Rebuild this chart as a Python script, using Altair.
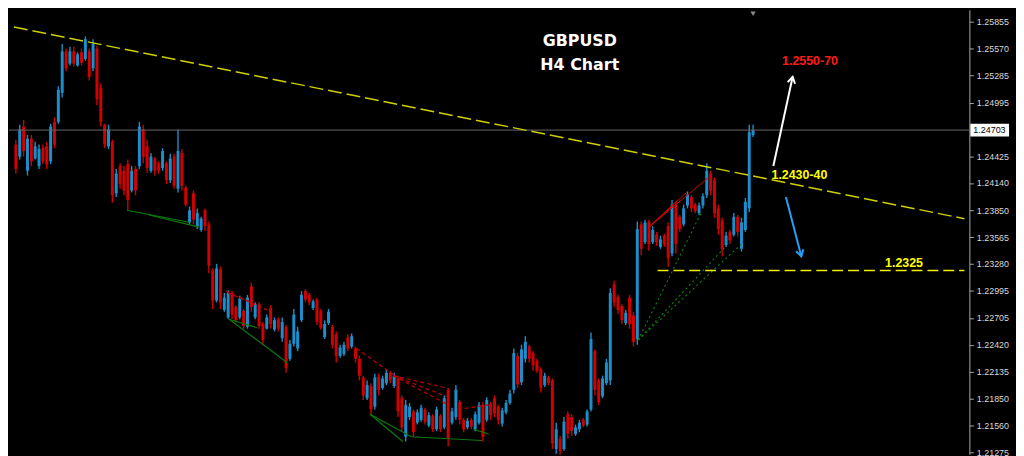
import altair as alt
import pandas as pd

# ---- H4 GBPUSD bars ----
opens = [
1.2455,1.2442,1.2474,1.2427,1.2461,1.2440,1.2432,1.2451,1.2453,1.2437,
1.2479,1.2479,1.2510,1.2554,1.2541,1.2554,1.2539,1.2553,1.2546,1.2554,
1.2536,1.2557,1.2515,1.2476,1.2453,1.2458,1.2403,1.2432,1.2427,1.2434,
1.2406,1.2429,1.2432,1.2471,1.2453,1.2427,1.2440,1.2435,1.2430,1.2435,
1.2417,1.2442,1.2408,1.2446,1.2409,1.2372,1.2403,1.2368,1.2364,1.2385,
1.2370,1.2321,1.2289,1.2322,1.2279,1.2271,1.2297,1.2282,1.2271,1.2278,
1.2261,1.2304,1.2271,1.2285,1.2264,1.2259,1.2281,1.2258,1.2269,1.2249,
1.2261,1.2227,1.2243,1.2238,1.2268,1.2299,1.2295,1.2281,1.2290,1.2278,
1.2250,1.2265,1.2261,1.2253,1.2230,1.2232,1.2250,1.2240,1.2238,1.2227,
1.2207,1.2185,1.2198,1.2176,1.2208,1.2196,1.2201,1.2212,1.2198,1.2206,
1.2185,1.2144,1.2165,1.2171,1.2159,1.2162,1.2173,1.2156,1.2166,1.2152,
1.2166,1.2154,1.2194,1.2159,1.2165,1.2181,1.2162,1.2154,1.2162,1.2152,
1.2159,1.2178,1.2162,1.2179,1.2185,1.2176,1.2158,1.2170,1.2180,1.2194,
1.2230,1.2202,1.2227,1.2240,1.2233,1.2225,1.2216,1.2199,1.2207,1.2204,
1.2131,1.2142,1.2131,1.2168,1.2165,1.2147,1.2152,1.2162,1.2157,1.2173,
1.2235,1.2204,1.2187,1.2201,1.2204,1.2306,1.2293,1.2283,1.2265,1.2292,
1.2273,1.2248,1.2370,1.2351,1.2373,1.2351,1.2359,1.2346,1.2358,1.2368,
1.2339,1.2391,1.2378,1.2370,1.2390,1.2399,1.2391,1.2382,1.2390,1.2401,
1.2424,1.2417,1.2387,1.2374,1.2348,1.2362,1.2359,1.2378,1.2344,1.2364,
1.2387,1.2465]
highs = [
1.2460,1.2476,1.2481,1.2465,1.2465,1.2458,1.2455,1.2455,1.2458,1.2477,
1.2484,1.2517,1.2562,1.2557,1.2559,1.2559,1.2553,1.2557,1.2570,1.2557,
1.2567,1.2560,1.2520,1.2477,1.2476,1.2460,1.2429,1.2435,1.2432,1.2439,
1.2432,1.2432,1.2479,1.2476,1.2460,1.2446,1.2442,1.2437,1.2451,1.2437,
1.2445,1.2445,1.2471,1.2450,1.2411,1.2389,1.2406,1.2387,1.2378,1.2387,
1.2373,1.2323,1.2328,1.2325,1.2297,1.2300,1.2299,1.2284,1.2294,1.2280,
1.2295,1.2308,1.2287,1.2287,1.2266,1.2274,1.2284,1.2271,1.2271,1.2271,
1.2263,1.2247,1.2280,1.2261,1.2299,1.2301,1.2297,1.2290,1.2292,1.2280,
1.2268,1.2280,1.2263,1.2256,1.2242,1.2245,1.2253,1.2254,1.2240,1.2230,
1.2209,1.2204,1.2201,1.2211,1.2211,1.2209,1.2216,1.2214,1.2212,1.2209,
1.2188,1.2183,1.2180,1.2173,1.2173,1.2178,1.2175,1.2170,1.2168,1.2176,
1.2168,1.2188,1.2196,1.2175,1.2199,1.2183,1.2164,1.2164,1.2164,1.2171,
1.2181,1.2181,1.2186,1.2181,1.2188,1.2178,1.2175,1.2183,1.2194,1.2238,
1.2233,1.2242,1.2251,1.2242,1.2235,1.2227,1.2218,1.2212,1.2209,1.2206,
1.2159,1.2145,1.2165,1.2171,1.2168,1.2157,1.2162,1.2164,1.2173,1.2255,
1.2237,1.2206,1.2209,1.2227,1.2302,1.2310,1.2295,1.2285,1.2279,1.2295,
1.2277,1.2373,1.2373,1.2375,1.2375,1.2368,1.2362,1.2358,1.2360,1.2372,
1.2396,1.2394,1.2380,1.2391,1.2405,1.2401,1.2393,1.2393,1.2403,1.2435,
1.2427,1.2420,1.2391,1.2377,1.2362,1.2364,1.2382,1.2380,1.2377,1.2398,
1.2476,1.2476]
lows = [
1.2424,1.2439,1.2442,1.2422,1.2432,1.2439,1.2429,1.2434,1.2429,1.2434,
1.2451,1.2477,1.2505,1.2533,1.2539,1.2538,1.2538,1.2539,1.2544,1.2523,
1.2533,1.2497,1.2474,1.2451,1.2450,1.2393,1.2399,1.2408,1.2401,1.2385,
1.2404,1.2401,1.2429,1.2435,1.2425,1.2425,1.2422,1.2424,1.2427,1.2413,
1.2414,1.2408,1.2404,1.2406,1.2389,1.2370,1.2370,1.2365,1.2362,1.2363,
1.2318,1.2280,1.2287,1.2280,1.2277,1.2269,1.2269,1.2266,1.2269,1.2259,
1.2259,1.2277,1.2269,1.2259,1.2242,1.2258,1.2259,1.2256,1.2256,1.2245,
1.2212,1.2225,1.2240,1.2235,1.2266,1.2287,1.2284,1.2279,1.2263,1.2258,
1.2248,1.2263,1.2238,1.2223,1.2228,1.2230,1.2235,1.2238,1.2223,1.2204,
1.2183,1.2183,1.2168,1.2173,1.2188,1.2194,1.2199,1.2201,1.2196,1.2165,
1.2149,1.2139,1.2162,1.2144,1.2157,1.2160,1.2157,1.2154,1.2149,1.2150,
1.2149,1.2152,1.2134,1.2157,1.2162,1.2157,1.2149,1.2152,1.2152,1.2150,
1.2157,1.2139,1.2160,1.2162,1.2165,1.2157,1.2155,1.2168,1.2178,1.2190,
1.2196,1.2199,1.2223,1.2223,1.2214,1.2212,1.2191,1.2197,1.2199,1.2131,
1.2126,1.2125,1.2129,1.2142,1.2145,1.2145,1.2149,1.2154,1.2155,1.2171,
1.2188,1.2178,1.2185,1.2199,1.2199,1.2282,1.2275,1.2264,1.2263,1.2259,
1.2240,1.2242,1.2337,1.2349,1.2342,1.2349,1.2347,1.2344,1.2346,1.2325,
1.2336,1.2339,1.2362,1.2368,1.2387,1.2383,1.2382,1.2380,1.2387,1.2398,
1.2401,1.2377,1.2359,1.2336,1.2346,1.2349,1.2357,1.2357,1.2341,1.2362,
1.2383,1.2463]
closes = [
1.2429,1.2471,1.2448,1.2461,1.2437,1.2453,1.2450,1.2437,1.2434,1.2474,
1.2455,1.2513,1.2554,1.2536,1.2554,1.2541,1.2551,1.2542,1.2567,1.2527,
1.2562,1.2503,1.2479,1.2455,1.2471,1.2401,1.2424,1.2413,1.2406,1.2396,
1.2427,1.2406,1.2474,1.2442,1.2430,1.2442,1.2427,1.2427,1.2448,1.2417,
1.2440,1.2411,1.2448,1.2411,1.2391,1.2385,1.2375,1.2382,1.2376,1.2368,
1.2326,1.2289,1.2323,1.2287,1.2292,1.2297,1.2274,1.2268,1.2291,1.2262,
1.2292,1.2282,1.2285,1.2262,1.2247,1.2271,1.2264,1.2268,1.2259,1.2266,
1.2217,1.2243,1.2274,1.2256,1.2295,1.2290,1.2287,1.2288,1.2266,1.2260,
1.2264,1.2277,1.2242,1.2230,1.2239,1.2242,1.2238,1.2251,1.2227,1.2209,
1.2188,1.2199,1.2173,1.2207,1.2194,1.2206,1.2212,1.2204,1.2209,1.2171,
1.2154,1.2178,1.2176,1.2149,1.2170,1.2175,1.2160,1.2167,1.2152,1.2173,
1.2152,1.2185,1.2142,1.2171,1.2194,1.2162,1.2152,1.2161,1.2155,1.2168,
1.2178,1.2144,1.2183,1.2167,1.2169,1.2162,1.2172,1.2180,1.2190,1.2233,
1.2200,1.2237,1.2245,1.2227,1.2220,1.2214,1.2196,1.2209,1.2201,1.2137,
1.2152,1.2129,1.2160,1.2147,1.2150,1.2154,1.2159,1.2156,1.2171,1.2248,
1.2194,1.2181,1.2206,1.2223,1.2297,1.2287,1.2279,1.2268,1.2276,1.2264,
1.2245,1.2365,1.2344,1.2372,1.2349,1.2364,1.2351,1.2354,1.2349,1.2334,
1.2391,1.2349,1.2365,1.2387,1.2402,1.2387,1.2384,1.2390,1.2400,1.2427,
1.2406,1.2382,1.2365,1.2344,1.2358,1.2353,1.2378,1.2362,1.2372,1.2394,
1.2468,1.24703]

# axis tick labels (right price scale)
tick_values = [1.25855, 1.25570, 1.25285, 1.24995, 1.24425, 1.24140, 1.23850,
               1.23565, 1.23280, 1.22995, 1.22705, 1.22420, 1.22135, 1.21850,
               1.21560, 1.21275]
current_price = 1.24703
support_level = 1.2321

# drawn objects: (segment, bar index, price)
trend_seg = [0, 0]
trend_i = [-0.5, 245.75]
trend_p = [1.2580, 1.2376]

green_seg = [0, 0, 1, 1, 2, 2, 3, 3, 4, 4, 5, 5, 6, 6, 7, 7]
green_i = [28.75, 45.25, 34.5, 47.5, 55.25, 70.25, 55.25, 62.5,
           91.75, 100.25, 91.75, 102.5, 102.5, 120.75, 118.5, 122.5]
green_p = [1.2385, 1.2372, 1.2380, 1.2367, 1.2269, 1.2223, 1.2269, 1.2260,
           1.2168, 1.2139, 1.2168, 1.2144, 1.2144, 1.2140, 1.2152, 1.2147]

reddash_seg = [0, 0, 1, 1, 2, 2, 3, 3, 4, 4, 5, 5, 6, 6]
reddash_i = [54.5, 65, 55, 60.75, 88.25, 98.25, 97.75, 111.5, 97.75, 111.5,
             97.75, 111.5, 114.5, 122.5]
reddash_p = [1.2299, 1.2279, 1.2297, 1.2287, 1.2238, 1.2209, 1.2209, 1.2196,
             1.2209, 1.2187, 1.2209, 1.2179, 1.2173, 1.2178]

redfan_seg = [0, 0, 1, 1, 2, 2, 3, 3]
redfan_i = [164, 179.5, 164, 173.75, 164, 171.5, 164, 170.5]
redfan_p = [1.2367, 1.2420, 1.2367, 1.2404, 1.2367, 1.2396, 1.2367, 1.2391]

greenfan_seg = [0, 0, 1, 1, 2, 2]
greenfan_i = [161.25, 177.5, 161.25, 184, 161.25, 188.5]
greenfan_p = [1.2247, 1.2382, 1.2247, 1.2347, 1.2247, 1.2351]

arrow_name = ["up", "up", "down", "down"]
arrow_i = [196.25, 201.25, 199.5, 203.5]
arrow_p = [1.2432, 1.2527, 1.2399, 1.2336]
arrow_col = ["#ffffff", "#ffffff", "#2a9df4", "#2a9df4"]

title_text = ["GBPUSD", "H4 Chart"]
title_i = [146.1, 146.1]
title_p = [1.2565, 1.2539]

level_text = ["1.2550-70", "1.2430-40", "1.2325"]
level_i = [205.75, 203.0, 230.1]
level_p = [1.25435, 1.2423, 1.2329]
level_col = ["#ff1a1a", "#ffff00", "#ffff00"]

# ---- build ----
bars = pd.DataFrame({"i": list(range(len(opens))), "o": opens, "h": highs,
                     "l": lows, "c": closes})
bars["col"] = ["#1b8fcc" if c >= o else "#d20000" for o, c in zip(opens, closes)]

xs = alt.Scale(domain=[-0.5, 245.75], nice=False, zero=False)
ys = alt.Scale(domain=[1.21254, 1.25983], nice=False, zero=False)

yaxis = alt.Axis(orient="right", values=tick_values, format=".5f", title=None,
                 grid=False, labelColor="#d8d8d8", labelFont="Liberation Sans",
                 labelFontSize=9, tickColor="#a8a8a8", domainColor="#a8a8a8",
                 tickSize=4, labelPadding=3, labelBaseline="middle")


def X(f):
    return alt.X(f, scale=xs, axis=None)


def Y(f):
    return alt.Y(f, scale=ys, axis=yaxis)


colr = alt.Color("col:N", scale=None)

wicks = alt.Chart(bars).mark_rule(strokeWidth=1.4).encode(
    x=X("i:Q"), y=Y("l:Q"), y2="h:Q", color=colr)
bodies = alt.Chart(bars).mark_bar(size=3).encode(
    x=X("i:Q"), y=Y("o:Q"), y2="c:Q", color=colr)

price_df = pd.DataFrame({"p": [current_price], "t": [f"{current_price:.5f}"]})
price_line = alt.Chart(price_df).mark_rule(color="#666666", strokeWidth=1).encode(
    y=Y("p:Q"))
price_box = alt.Chart(price_df).mark_rule(color="white", strokeWidth=13,
                                          strokeCap="butt").encode(
    y=Y("p:Q"), x=alt.value(969), x2=alt.value(1008))
price_txt = alt.Chart(price_df).mark_text(align="left", baseline="middle",
                                          color="black", fontSize=9,
                                          font="Liberation Sans").encode(
    y=Y("p:Q"), x=alt.value(972), text="t:N")


def seg_layer(seg, ii, pp, **kw):
    df = pd.DataFrame({"s": seg, "i": ii, "p": pp})
    return alt.Chart(df).mark_line(**kw).encode(
        x=X("i:Q"), y=Y("p:Q"), detail="s:N")


green = seg_layer(green_seg, green_i, green_p, color="#0d7a0d", strokeWidth=1.2)
reddash = seg_layer(reddash_seg, reddash_i, reddash_p, color="#c00000",
                    strokeWidth=1.2, strokeDash=[4, 3])
redfan = seg_layer(redfan_seg, redfan_i, redfan_p, color="#d00000", strokeWidth=1)
greenfan = seg_layer(greenfan_seg, greenfan_i, greenfan_p, color="#0b8a0b",
                     strokeWidth=1.1, strokeDash=[2, 3])
trend = seg_layer(trend_seg, trend_i, trend_p, color="#d0d000", strokeWidth=1.5,
                  strokeDash=[14, 5])

support_df = pd.DataFrame({"i": [166.25], "i2": [245.75], "p": [support_level]})
support = alt.Chart(support_df).mark_rule(color="#f0f000", strokeWidth=1.5,
                                          strokeDash=[11, 5]).encode(
    x=X("i:Q"), x2="i2:Q", y=Y("p:Q"))

arr_df = pd.DataFrame({"a": arrow_name, "i": arrow_i, "p": arrow_p,
                       "col": arrow_col})
shafts = alt.Chart(arr_df).mark_line(strokeWidth=2).encode(
    x=X("i:Q"), y=Y("p:Q"), detail="a:N", color=colr)
chevron = "M-0.6,1 L0,0 L0.6,1"
head_up = alt.Chart(arr_df.iloc[[1]]).mark_point(
    shape=chevron, size=160, angle=12, filled=False, strokeWidth=2,
    color="#ffffff", opacity=1).encode(x=X("i:Q"), y=Y("p:Q"))
head_dn = alt.Chart(arr_df.iloc[[3]]).mark_point(
    shape=chevron, size=160, angle=165, filled=False, strokeWidth=2,
    color="#2a9df4", opacity=1).encode(x=X("i:Q"), y=Y("p:Q"))

title_df = pd.DataFrame({"t": title_text, "i": title_i, "p": title_p})
titles = alt.Chart(title_df).mark_text(font="DejaVu Sans", fontWeight="bold",
                                       fontSize=16, color="white",
                                       baseline="middle").encode(
    x=X("i:Q"), y=Y("p:Q"), text="t:N")

level_df = pd.DataFrame({"t": level_text, "i": level_i, "p": level_p,
                         "col": level_col})
levels = alt.Chart(level_df).mark_text(font="Liberation Sans", fontWeight="bold",
                                       fontSize=12.5, baseline="middle").encode(
    x=X("i:Q"), y=Y("p:Q"), text="t:N", color=colr)

shift_df = pd.DataFrame({"i": [191]})
shift_mark = alt.Chart(shift_df).mark_point(shape="triangle-down", filled=True,
                                            size=28, color="#8a8a8a",
                                            opacity=1).encode(
    x=X("i:Q"), y=alt.value(4))

chart = alt.layer(
    wicks, bodies, price_line, green, reddash, redfan, greenfan, trend, support,
    shafts, head_up, head_dn, titles, levels, price_box, price_txt, shift_mark
).properties(width=968, height=448, padding=0).configure(
    background="black").configure_view(stroke=None)

chart.save("out.html", embed_options={"renderer": "svg", "actions": False})
